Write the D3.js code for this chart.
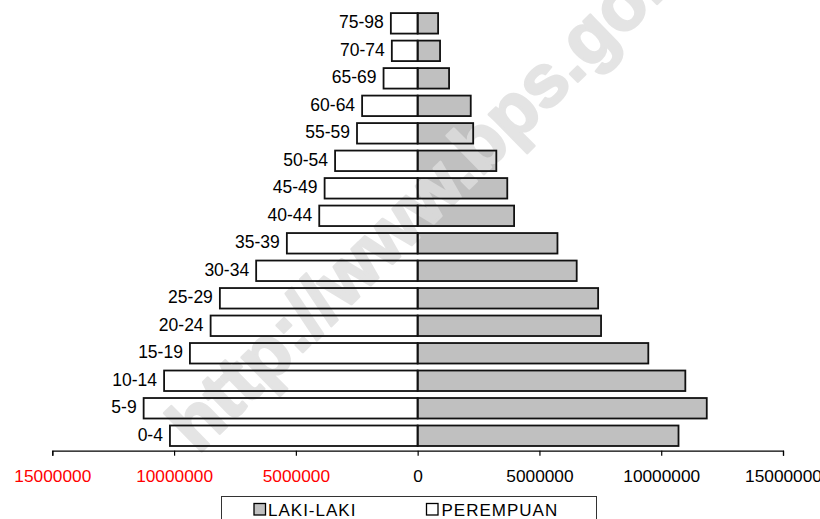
<!DOCTYPE html>
<html>
<head>
<meta charset="utf-8">
<script src="https://cdn.jsdelivr.net/npm/d3@7"></script>
<style>
  html, body { margin: 0; padding: 0; background: #fff; }
  svg { display: block; font-family: "Liberation Sans", Arial, sans-serif; }
</style>
</head>
<body>
<svg id="chart" width="820" height="519"></svg>
<script>
// Age groups, youngest first (drawn bottom to top)
const ageGroups = ["0-4","5-9","10-14","15-19","20-24","25-29","30-34","35-39",
                   "40-44","45-49","50-54","55-59","60-64","65-69","70-74","75-98"];
// Male population (LAKI-LAKI), drawn to the right
const lakiLaki = [10710000,11870000,10990000,9470000,7530000,7410000,6530000,5740000,
                  3960000,3680000,3230000,2280000,2180000,1290000,920000,840000];
// Female population (PEREMPUAN), drawn to the left
const perempuan = [10170000,11250000,10410000,9350000,8500000,8120000,6630000,5370000,
                   4040000,3820000,3390000,2490000,2280000,1400000,1060000,1100000];
// Axis ticks
const tickValues = [-15000000,-10000000,-5000000,0,5000000,10000000,15000000];
const legendLabels = ["LAKI-LAKI","PEREMPUAN"];
const watermarkText = "http://www.bps.go.id";

const svg = d3.select("#chart");

const x = d3.scaleLinear().domain([-15000000, 15000000]).range([52.3, 783]);
const y = d3.scaleBand().domain(ageGroups).range([449.5, 9.6])
  .paddingInner(0.255).paddingOuter(0.1275);

const rows = ageGroups.map((g, i) => ({ group: g, male: lakiLaki[i], female: perempuan[i] }));

// Bar fills
const fills = svg.append("g");
fills.selectAll("rect.f").data(rows).join("rect")
  .attr("x", d => x(-d.female)).attr("y", d => y(d.group))
  .attr("width", d => x(0) - x(-d.female)).attr("height", y.bandwidth())
  .attr("fill", "#ffffff");
fills.selectAll("rect.m").data(rows).join("rect")
  .attr("x", x(0)).attr("y", d => y(d.group))
  .attr("width", d => x(d.male) - x(0)).attr("height", y.bandwidth())
  .attr("fill", "#c0c0c0");

// Watermark, laid over the fills
svg.append("g").attr("opacity", 0.8)
  .append("text")
  .attr("transform", "translate(198,455) rotate(-44.5)")
  .attr("font-size", 74).attr("font-weight", "bold")
  .attr("fill", "#dedede").attr("stroke", "#dedede").attr("stroke-width", 2.5)
  .attr("stroke-linejoin", "round")
  .text(watermarkText);

// Bar outlines
const outlines = svg.append("g").attr("fill", "none").attr("stroke", "#111").attr("stroke-width", 1.8);
outlines.selectAll("rect.f").data(rows).join("rect")
  .attr("x", d => x(-d.female)).attr("y", d => y(d.group))
  .attr("width", d => x(0) - x(-d.female)).attr("height", y.bandwidth());
outlines.selectAll("rect.m").data(rows).join("rect")
  .attr("x", x(0)).attr("y", d => y(d.group))
  .attr("width", d => x(d.male) - x(0)).attr("height", y.bandwidth());

// Age labels beside the left end of each bar
svg.append("g").selectAll("text").data(rows).join("text")
  .attr("x", d => x(-d.female) - 7)
  .attr("y", d => y(d.group) + y.bandwidth() / 2 + 5)
  .attr("text-anchor", "end").attr("font-size", 17.5).attr("fill", "#000")
  .text(d => d.group);

// Value axis
const axis = d3.axisBottom(x).tickValues(tickValues)
  .tickFormat(v => String(Math.abs(v)))
  .tickSize(5).tickSizeOuter(5).tickPadding(14.5);
const ax = svg.append("g").attr("transform", "translate(0,450.7)").call(axis);
ax.select(".domain").attr("stroke", "#000").attr("stroke-width", 1.2);
ax.selectAll(".tick line").attr("stroke", "#000").attr("stroke-width", 1.2);
ax.selectAll(".tick text")
  .attr("font-size", 17.3).attr("font-family", "Liberation Sans, Arial, sans-serif")
  .attr("fill", v => v < 0 ? "#ff0000" : "#000");

// Legend
const lg = svg.append("g");
lg.append("rect").attr("x", 221.5).attr("y", 496.5).attr("width", 375).attr("height", 30)
  .attr("fill", "#fff").attr("stroke", "#333").attr("stroke-width", 1);
const legendItems = [
  { label: legendLabels[0], fill: "#c0c0c0", sx: 254, tx: 268 },
  { label: legendLabels[1], fill: "#ffffff", sx: 426.5, tx: 441.5 }
];
legendItems.forEach(it => {
  lg.append("rect").attr("x", it.sx).attr("y", 503.5).attr("width", 11.5).attr("height", 11.5)
    .attr("fill", it.fill).attr("stroke", "#000").attr("stroke-width", 1.3);
  lg.append("text").attr("x", it.tx).attr("y", 516)
    .attr("font-size", 17).attr("letter-spacing", 1).attr("fill", "#000")
    .text(it.label);
});
</script>
</body>
</html>
